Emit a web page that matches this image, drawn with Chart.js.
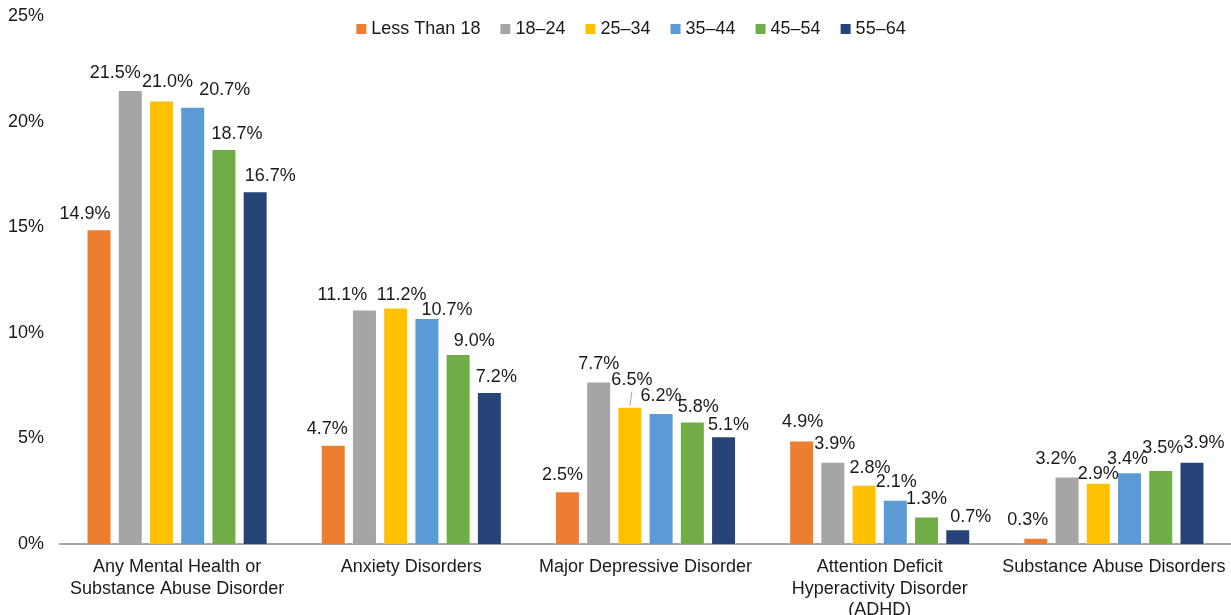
<!DOCTYPE html>
<html>
<head>
<meta charset="utf-8">
<script src="https://cdn.jsdelivr.net/npm/chart.js@4"></script>
<style>
  html, body { margin: 0; padding: 0; background: #ffffff; }
  #wrap { width: 1231px; height: 615px; }
</style>
</head>
<body>
<div id="wrap"><canvas id="c" width="1231" height="615"></canvas></div>
<script>
// ---- Data ----
const categories = [
  ["Any Mental Health or", "Substance Abuse Disorder"],
  "Anxiety Disorders",
  "Major Depressive Disorder",
  ["Attention Deficit", "Hyperactivity Disorder", "(ADHD)"],
  "Substance Abuse Disorders"
];
const seriesNames = ["Less Than 18", "18\u201324", "25\u201334", "35\u201344", "45\u201354", "55\u201364"];
const lessThan18 = [14.9, 4.7, 2.5, 4.9, 0.3];
const age18to24  = [21.5, 11.1, 7.7, 3.9, 3.2];
const age25to34  = [21.0, 11.2, 6.5, 2.8, 2.9];
const age35to44  = [20.7, 10.7, 6.2, 2.1, 3.4];
const age45to54  = [18.7, 9.0, 5.8, 1.3, 3.5];
const age55to64  = [16.7, 7.2, 5.1, 0.7, 3.9];
const yTickValues = [0, 5, 10, 15, 20, 25];

// ---- Styles ----
const FONT = '"Liberation Sans", Arial, Helvetica, sans-serif';
const FSIZE = 18;
const TEXT = '#1a1a1a';
const colors = ['#ED7D31', '#A5A5A5', '#FFC000', '#5B9BD5', '#70AD47', '#264478'];
const seriesValues = [lessThan18, age18to24, age25to34, age35to44, age45to54, age55to64];

// label nudges (dx, dy) per series per category, mimicking the manually placed labels
const labelNudges = [
  [[-14, 1], [-6, 0], [-5, 0], [1, -2], [-8, -2]],
  [[-15, -1], [-22, 1], [0, -1], [2, -2], [-11, -1]],
  [[6, -2], [6, 4], [2, -11], [6, -1], [0, 7]],
  [[32, -1], [20, 8], [0, -1], [1, -2], [-2, 3]],
  [[13, 1], [16, 3], [6, 2], [0, -2], [2, -6]],
  [[15, 1], [7, 1], [5, 5], [13, 4], [12, -3]]
];
const leaderLines = [[2, 2]]; // [series, category]

const datasets = seriesNames.map((name, i) => ({
  label: name,
  data: seriesValues[i],
  backgroundColor: colors[i],
  borderColor: 'rgba(255,255,255,0.35)',
  borderWidth: 1,
  categoryPercentage: 0.8,
  barPercentage: 0.8
}));

const labelPlugin = {
  id: 'barLabels',
  afterDatasetsDraw(chart) {
    const ctx = chart.ctx;
    ctx.save();
    ctx.font = FSIZE + 'px ' + FONT;
    ctx.fillStyle = TEXT;
    ctx.textAlign = 'center';
    ctx.textBaseline = 'middle';
    chart.data.datasets.forEach((ds, di) => {
      const meta = chart.getDatasetMeta(di);
      meta.data.forEach((bar, ci) => {
        const n = labelNudges[di][ci];
        const x = bar.x + n[0];
        const y = bar.y - 16 + n[1];
        ctx.fillText(ds.data[ci].toFixed(1) + '%', x, y);
      });
    });
    ctx.strokeStyle = '#a6a6a6';
    ctx.lineWidth = 1;
    leaderLines.forEach(([di, ci]) => {
      const bar = chart.getDatasetMeta(di).data[ci];
      ctx.beginPath();
      ctx.moveTo(bar.x, bar.y - 1);
      ctx.lineTo(bar.x + 2, bar.y - 15);
      ctx.stroke();
    });
    ctx.restore();
  }
};

const legendPlugin = {
  id: 'topLegend',
  afterDraw(chart) {
    const ctx = chart.ctx;
    ctx.save();
    ctx.font = FSIZE + 'px ' + FONT;
    ctx.textBaseline = 'middle';
    ctx.textAlign = 'left';
    const box = 10, gap = 5, itemGap = 20;
    const items = chart.data.datasets.map(ds => ({ label: ds.label, color: ds.backgroundColor, w: ctx.measureText(ds.label).width }));
    let total = 0;
    items.forEach((it, i) => { total += box + gap + it.w + (i < items.length - 1 ? itemGap : 0); });
    let x = 631 - total / 2;
    const cy = 29;
    items.forEach(it => {
      ctx.fillStyle = it.color;
      ctx.fillRect(x, cy - box / 2, box, box);
      x += box + gap;
      ctx.fillStyle = TEXT;
      ctx.fillText(it.label, x, cy);
      x += it.w + itemGap;
    });
    ctx.restore();
  }
};

new Chart(document.getElementById('c'), {
  type: 'bar',
  data: { labels: categories, datasets },
  options: {
    responsive: false,
    devicePixelRatio: 1,
    animation: false,
    layout: { padding: { top: 16, right: 0, left: 0, bottom: 0 } },
    plugins: {
      legend: { display: false },
      tooltip: { enabled: false },
      title: { display: false }
    },
    scales: {
      x: {
        grid: { display: false, drawTicks: false },
        border: { display: true, color: '#a6a6a6', width: 2 },
        ticks: {
          color: TEXT,
          font: { family: FONT, size: FSIZE, lineHeight: 1.17 },
          padding: 13,
          maxRotation: 0,
          autoSkip: false
        },
        afterFit(scale) { scale.height = 71; scale.paddingLeft = 0; scale.paddingRight = 0; }
      },
      y: {
        min: 0,
        max: 25,
        afterBuildTicks(scale) { scale.ticks = yTickValues.map(v => ({ value: v })); },
        grid: { display: false, drawTicks: false },
        border: { display: false },
        ticks: {
          color: TEXT,
          font: { family: FONT, size: FSIZE },
          padding: 16,
          callback: v => v + '%'
        },
        afterFit(scale) { scale.width = 60; scale.paddingTop = 0; }
      }
    }
  },
  plugins: [labelPlugin, legendPlugin]
});
</script>
</body>
</html>
